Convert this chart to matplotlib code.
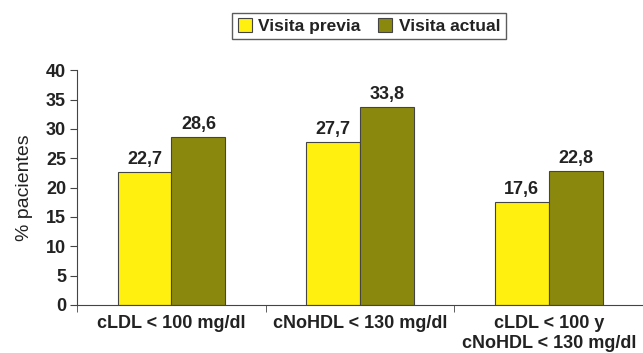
import numpy as np
import matplotlib.pyplot as plt
from matplotlib.ticker import FixedLocator

plt.rcParams['font.family'] = ['Liberation Sans', 'DejaVu Sans']

categorias = ["cLDL < 100 mg/dl", "cNoHDL < 130 mg/dl", "cLDL < 100 y\ncNoHDL < 130 mg/dl"]
visita_previa = [22.7, 27.7, 17.6]
visita_actual = [28.6, 33.8, 22.8]
series = ["Visita previa", "Visita actual"]

fig = plt.figure(figsize=(6.43, 3.53), dpi=100)
ax = fig.add_axes([0.12, 0.136, 0.88, 0.665])

x = np.arange(len(categorias))
w = 0.286
b1 = ax.bar(x - w / 2, visita_previa, w, color="#FFF010", edgecolor="#444444", linewidth=0.8, label=series[0])
b2 = ax.bar(x + w / 2, visita_actual, w, color="#8B880E", edgecolor="#444444", linewidth=0.8, label=series[1])

for barras, vals in ((b1, visita_previa), (b2, visita_actual)):
    for r, v in zip(barras, vals):
        ax.text(r.get_x() + r.get_width() / 2, v + 0.7, f"{v:.1f}".replace(".", ","),
                ha="center", va="bottom", fontsize=13, fontweight="bold", color="#222222")

ax.set_xlim(-0.5, 2.5)
ax.set_ylim(0, 40)
ax.set_yticks(range(0, 41, 5))
ax.set_xticks(x)
ax.set_xticklabels(categorias, fontsize=13, fontweight="bold", linespacing=1.25, color="#222222")
ax.tick_params(axis="x", length=0, pad=7)
ax.xaxis.set_minor_locator(FixedLocator([-0.5, 0.5, 1.5, 2.5]))
ax.tick_params(axis="x", which="minor", length=5, color="#444444")
for t in ax.get_yticklabels():
    t.set_fontweight("bold")
    t.set_fontsize(13)
    t.set_color("#222222")
ax.tick_params(axis="y", length=5, color="#444444", pad=3)
ax.set_ylabel("% pacientes", fontsize=14, color="#222222", labelpad=9)

for s in ("top", "right"):
    ax.spines[s].set_visible(False)
for s in ("left", "bottom"):
    ax.spines[s].set_color("#444444")

leg = fig.legend(loc="center", bbox_to_anchor=(0.574, 0.926), ncol=2, frameon=True,
                 fancybox=False, edgecolor="#333333", prop={"weight": "bold", "size": 12.5},
                 handlelength=0.8, handleheight=0.8, handletextpad=0.4, columnspacing=1.0,
                 borderpad=0.3)
leg.get_frame().set_linewidth(1.0)
for t in leg.get_texts():
    t.set_color("#222222")

fig.savefig("out.png", dpi=100)
